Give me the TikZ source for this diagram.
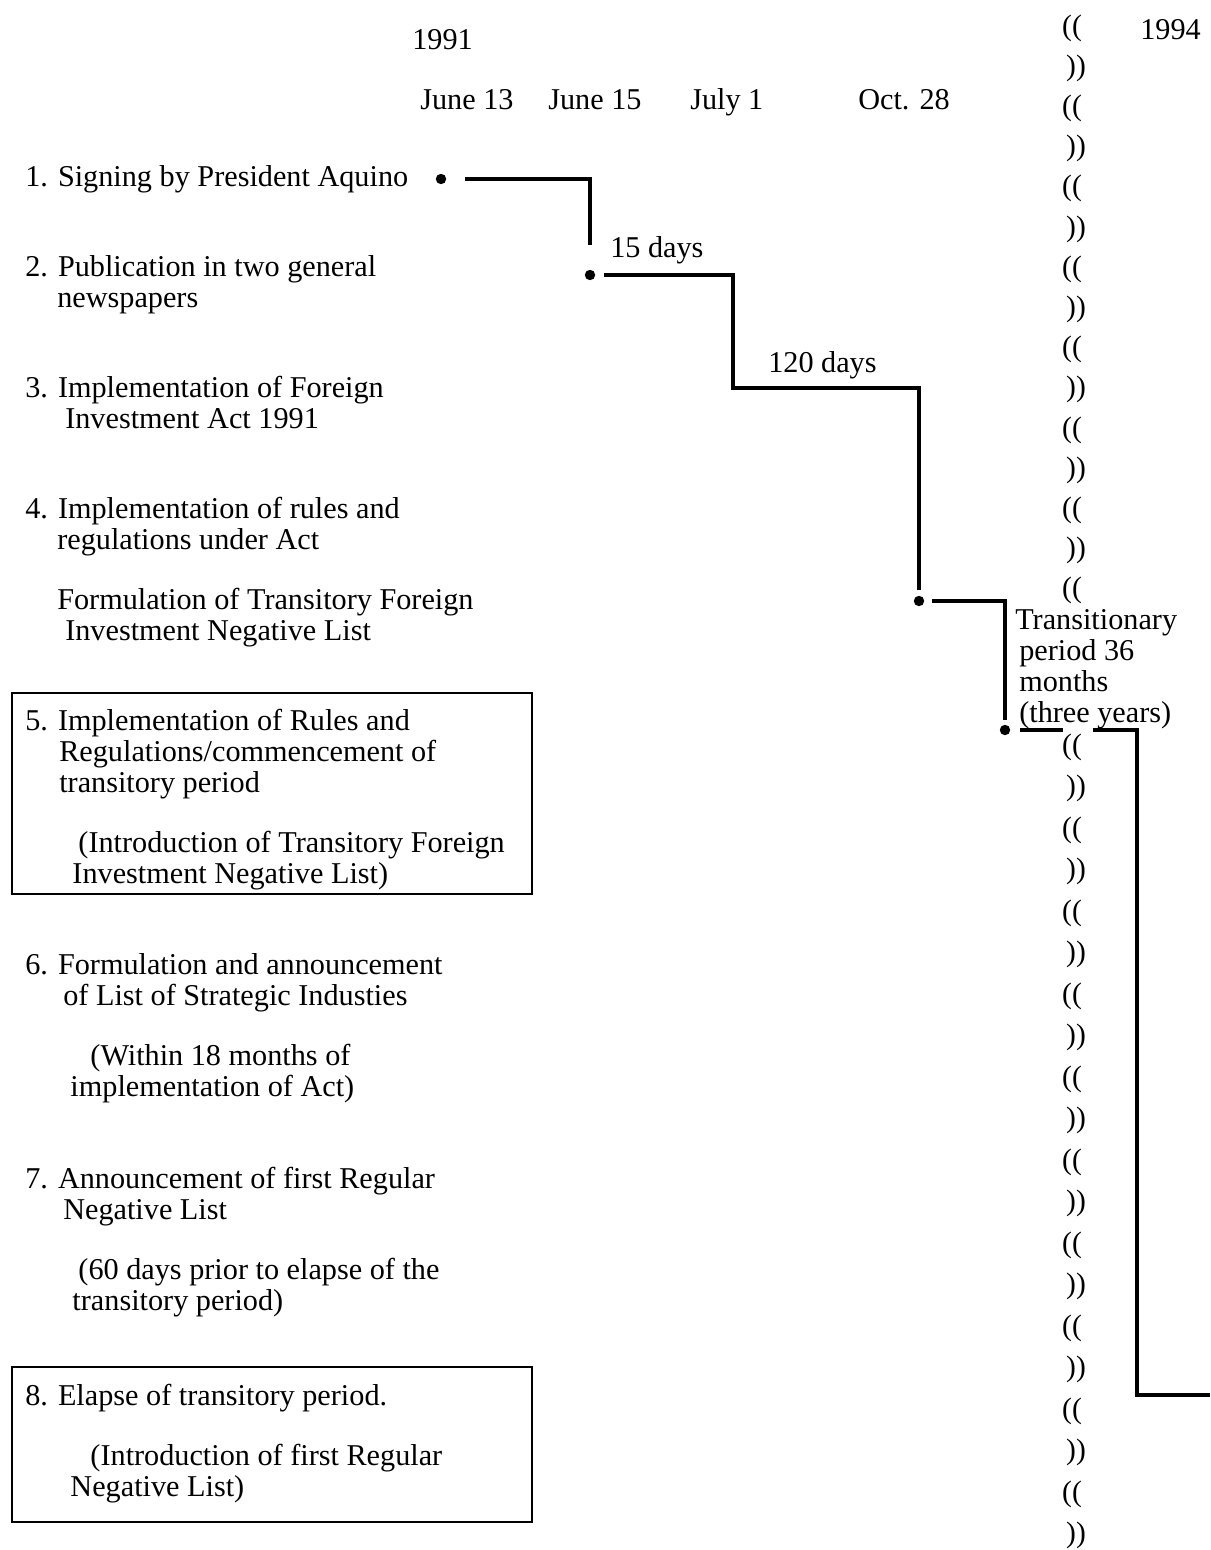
\documentclass[tikz,border=0pt]{standalone}
\usepackage{fontspec}
\setmainfont{Liberation Serif}

\begin{document}
\begin{tikzpicture}[x=0.025cm,y=-0.025cm,
  every node/.style={inner sep=0pt,font=\fontsize{21.5}{22.05}\selectfont},
  item/.style={anchor=north west,align=left},
  lbl/.style={anchor=base west},
  dot/.style={circle,fill,inner sep=0pt,minimum size=0.26cm},
  link/.style={line width=2.4pt},
  boxline/.style={line width=1.7pt},
  brk/.style={font=\fontsize{21}{21}\selectfont}]
\useasboundingbox (0,0) rectangle (1210,1550);

% years and dates
\node[lbl] (y1991) at (412,50) {1991};
\node[lbl] (y1994) at (1140,40) {1994};
\node[lbl] (jun13) at (420,110) {June 13};
\node[lbl] (jun15) at (548,110) {June 15};
\node[lbl] (jul1) at (690,110) {July 1};
\node[lbl] (oct28) at (858,110) {Oct. 28};

% steps
\node[item] (item1) at (25,165) {1. Signing by President Aquino};
\node[item] (item2) at (25,255) {2. Publication in two general\\\hspace*{0.8cm}newspapers};
\node[item] (item3) at (25,376) {3. Implementation of Foreign\\\hspace*{1cm}Investment Act 1991};
\node[item] (item4) at (25,497) {4. Implementation of rules and\\\hspace*{0.8cm}regulations under Act};
\node[item] (list4) at (57,588) {Formulation of Transitory Foreign\\\hspace*{0.2cm}Investment Negative List};
\node[item] (item5) at (25,709) {5. Implementation of Rules and\\\hspace*{0.85cm}Regulations/commencement of\\\hspace*{0.85cm}transitory period\\[0.73cm]\hspace*{1.33cm}(Introduction of Transitory Foreign\\\hspace*{1.18cm}Investment Negative List)};
\node[item] (item6) at (25,953) {6. Formulation and announcement\\\hspace*{0.95cm}of List of Strategic Industies\\[0.73cm]\hspace*{1.63cm}(Within 18 months of\\\hspace*{1.13cm}implementation of Act)};
\node[item] (item7) at (25,1167) {7. Announcement of first Regular\\\hspace*{0.95cm}Negative List\\[0.73cm]\hspace*{1.33cm}(60 days prior to elapse of the\\\hspace*{1.18cm}transitory period)};
\node[item] (item8) at (25,1384) {8. Elapse of transitory period.\\[0.73cm]\hspace*{1.63cm}(Introduction of first Regular\\\hspace*{1.13cm}Negative List)};

\draw[boxline] (12,693) rectangle (532,894);
\draw[boxline] (12,1367) rectangle (532,1522);

% break marks
\foreach \k in {0,2,...,14} \node[brk] (bu\k) at (1072,{28+40.2*\k}) {((};
\foreach \k in {1,3,...,13} \node[brk] (bu\k) at (1076,{28+40.2*\k}) {))};
\foreach \k in {0,2,...,18} \node[brk] (bl\k) at (1072,{747+41.5*\k}) {((};
\foreach \k in {1,3,...,19} \node[brk] (bl\k) at (1076,{747+41.5*\k}) {))};

% time line
\node[dot] (d1) at (441,179) {};
\node[dot] (d2) at (590,275) {};
\node[dot] (d3) at (919,601) {};
\node[dot] (d4) at (1005,730) {};

\coordinate (e1) at (590,245);
\coordinate (k2) at (733,388);
\coordinate (e2) at (919,590);
\coordinate (e3) at (1005,720);
\coordinate (g4) at (1093,730);
\coordinate (k4) at (1137,1395);
\coordinate (e4) at (1210,1395);

\draw[link] ([xshift=0.6cm]d1.center) -| (e1);
\draw[link] ([xshift=0.35cm]d2.center) -| (k2) -| (e2);
\draw[link] ([xshift=0.33cm]d3.center) -| (e3);
\draw[link] ([xshift=0.37cm]d4.center) -- ++(43,0);
\draw[link] (g4) -| (k4) -- (e4);

\node[lbl] (days15) at (610,258) {15 days};
\node[lbl] (days120) at (768,372) {120 days};
\node[item] (trans) at (1015,609) {Transitionary\\\hspace*{0.1cm}period 36\\\hspace*{0.1cm}months\\\hspace*{0.1cm}(three years)};
\end{tikzpicture}
\end{document}
